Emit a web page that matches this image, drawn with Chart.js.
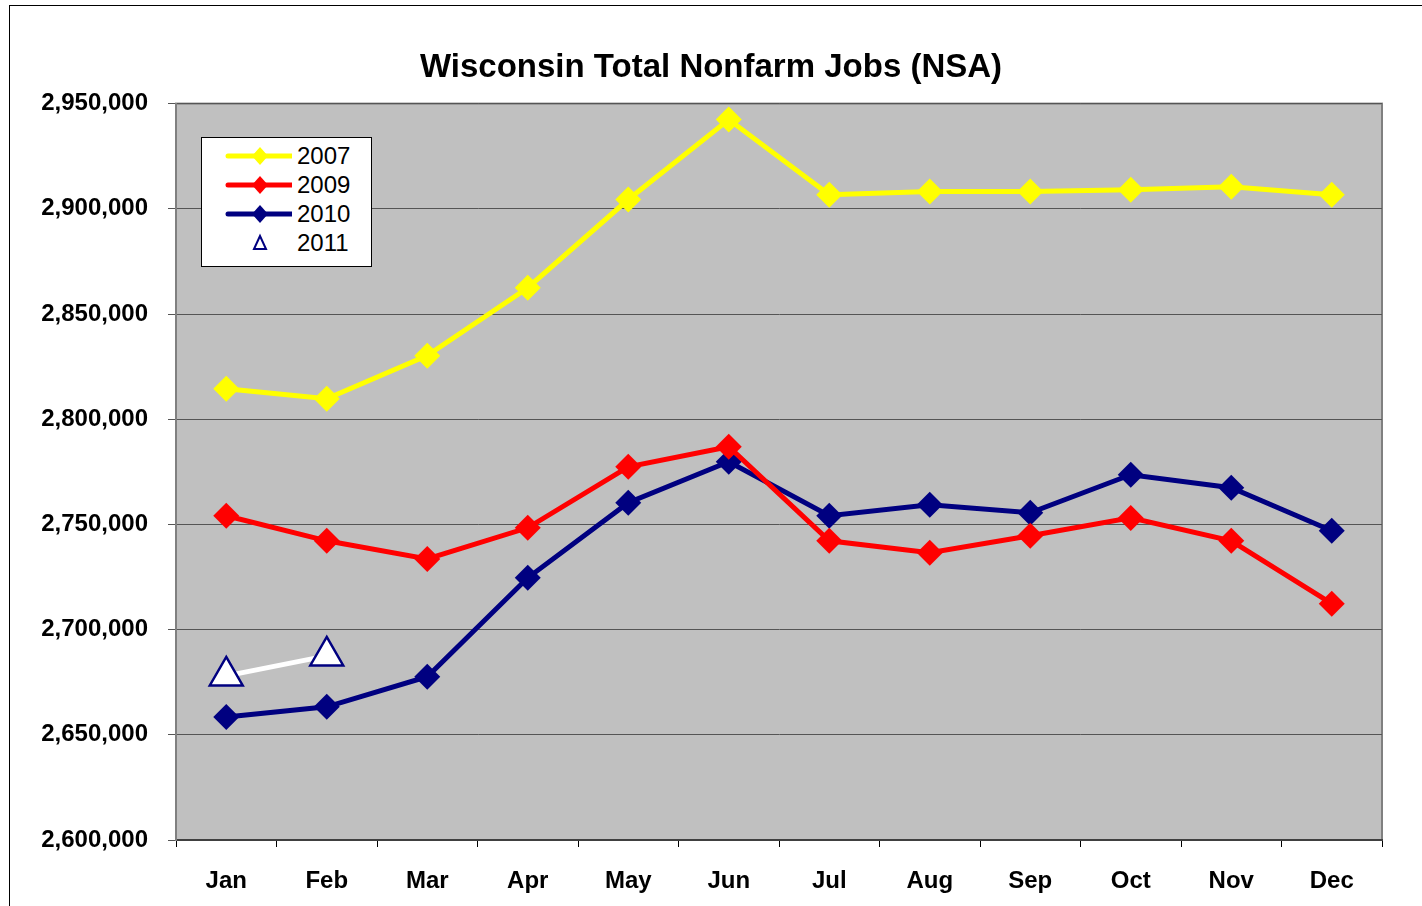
<!DOCTYPE html>
<html>
<head>
<meta charset="utf-8">
<script src="https://cdn.jsdelivr.net/npm/chart.js@4/dist/chart.umd.min.js"></script>
<style>
    html, body { margin: 0; padding: 0; background: #fff; overflow: hidden; }
    #wrap { position: relative; width: 1422px; height: 906px; }
    #frame { position: absolute; left: 9px; top: 5px; width: 1500px; height: 1000px; border: 1px solid #000; box-sizing: border-box; }
    canvas { position: absolute; left: 0; top: 0; }
    #legend {
        position: absolute; left: 201px; top: 137px; width: 169px; height: 128px;
        background: #fff; border: 1px solid #000;
        font-family: "Liberation Sans", Arial, sans-serif; font-size: 24px; color: #000;
    }
    .item { position: absolute; left: 0; height: 28px; width: 169px; }
    .item span { position: absolute; left: 95px; top: 0; line-height: 28px; }
    .item canvas { position: absolute; left: 20px; top: 0; }
</style>
</head>
<body>
<div id="wrap">
    <div id="frame"></div>
    <canvas id="jobsChart" width="1422" height="906"></canvas>
    <div id="legend"></div>
</div>
<script>
// Data
const months = ['Jan', 'Feb', 'Mar', 'Apr', 'May', 'Jun', 'Jul', 'Aug', 'Sep', 'Oct', 'Nov', 'Dec'];
const jobs2007 = [2814500, 2809700, 2830200, 2862500, 2904400, 2942400, 2906700, 2908200, 2908200, 2909100, 2910500, 2906700];
const jobs2009 = [2754100, 2742200, 2733600, 2748400, 2777400, 2786900, 2742200, 2736500, 2744600, 2753100, 2742200, 2712300];
const jobs2010 = [2658500, 2663300, 2677600, 2724600, 2760300, 2779800, 2754100, 2759300, 2755500, 2773600, 2767400, 2747000];
const jobs2011 = [2678000, 2687500];
const yTicks = [2600000, 2650000, 2700000, 2750000, 2800000, 2850000, 2900000, 2950000];

const font = '"Liberation Sans", Arial, sans-serif';

// grey plot area with border
const plotBg = {
    id: 'plotBg',
    beforeDraw(chart) {
        const { ctx, chartArea: a } = chart;
        ctx.save();
        ctx.fillStyle = '#c0c0c0';
        ctx.fillRect(a.left, a.top, a.right - a.left, a.bottom - a.top);
        ctx.strokeStyle = '#808080';
        ctx.lineWidth = 2;
        ctx.strokeRect(a.left, a.top, a.right - a.left, a.bottom - a.top);
        ctx.restore();
    }
};

const diamond = (color) => ({
    borderColor: color,
    backgroundColor: color,
    pointBackgroundColor: color,
    pointBorderColor: color,
    pointStyle: 'rectRot',
    pointRadius: 13,
    pointBorderWidth: 0,
    borderWidth: 5
});

const ctx = document.getElementById('jobsChart').getContext('2d');
const jobsChart = new Chart(ctx, {
    type: 'line',
    data: {
        labels: months,
        datasets: [
            { label: '2007', data: jobs2007, ...diamond('#ffff00') },
            { label: '2009', data: jobs2009, ...diamond('#ff0000') },
            { label: '2010', data: jobs2010, ...diamond('#000080') },
            {
                label: '2011', data: jobs2011,
                borderColor: '#ffffff', borderWidth: 5,
                pointStyle: 'triangle', pointRadius: 19, pointBorderWidth: 2.5,
                pointBackgroundColor: '#ffffff', pointBorderColor: '#000080'
            }
        ]
    },
    options: {
        responsive: false,
        animation: false,
        layout: { padding: { left: 40, right: 40, top: 48, bottom: 0 } },
        plugins: {
            legend: { display: false },
            tooltip: { enabled: false },
            title: {
                display: true,
                text: 'Wisconsin Total Nonfarm Jobs (NSA)',
                color: '#000',
                font: { family: font, size: 33, weight: 'bold' },
                padding: { top: 0, bottom: 16 }
            }
        },
        scales: {
            x: {
                offset: true,
                afterFit: (s) => { s.height = 66; },
                border: { color: '#404040', width: 2 },
                grid: { offset: true, drawOnChartArea: false, color: '#000', tickLength: 7 },
                ticks: { color: '#000', padding: 20, font: { family: font, size: 24, weight: 'bold' } }
            },
            y: {
                min: 2600000,
                max: 2950000,
                afterFit: (s) => { s.width = 136; },
                afterBuildTicks: (s) => { s.ticks = yTicks.map(v => ({ value: v })); },
                border: { color: '#808080', width: 2 },
                grid: { color: '#555', tickLength: 8 },
                ticks: {
                    color: '#000', padding: 20,
                    font: { family: font, size: 24, weight: 'bold' },
                    callback: (v) => v.toLocaleString('en-US')
                }
            }
        }
    },
    plugins: [plotBg]
});

// Legend box
const legend = document.getElementById('legend');
jobsChart.data.datasets.forEach((ds, i) => {
    const item = document.createElement('div');
    item.className = 'item';
    item.style.top = (4 + i * 29) + 'px';
    const c = document.createElement('canvas');
    c.width = 70; c.height = 28;
    const g = c.getContext('2d');
    if (ds.pointStyle === 'rectRot') {
        g.strokeStyle = ds.borderColor; g.lineWidth = 5; g.lineCap = 'round';
        g.beginPath(); g.moveTo(6, 14); g.lineTo(70, 14); g.stroke();
        g.fillStyle = ds.borderColor;
        g.beginPath(); g.moveTo(38, 5); g.lineTo(46, 14); g.lineTo(38, 23); g.lineTo(30, 14); g.closePath(); g.fill();
    } else {
        g.strokeStyle = ds.pointBorderColor; g.lineWidth = 2; g.fillStyle = '#fff';
        g.beginPath(); g.moveTo(38, 7); g.lineTo(44, 20); g.lineTo(32, 20); g.closePath(); g.fill(); g.stroke();
    }
    const t = document.createElement('span');
    t.textContent = ds.label;
    item.appendChild(c);
    item.appendChild(t);
    legend.appendChild(item);
});
</script>
</body>
</html>
